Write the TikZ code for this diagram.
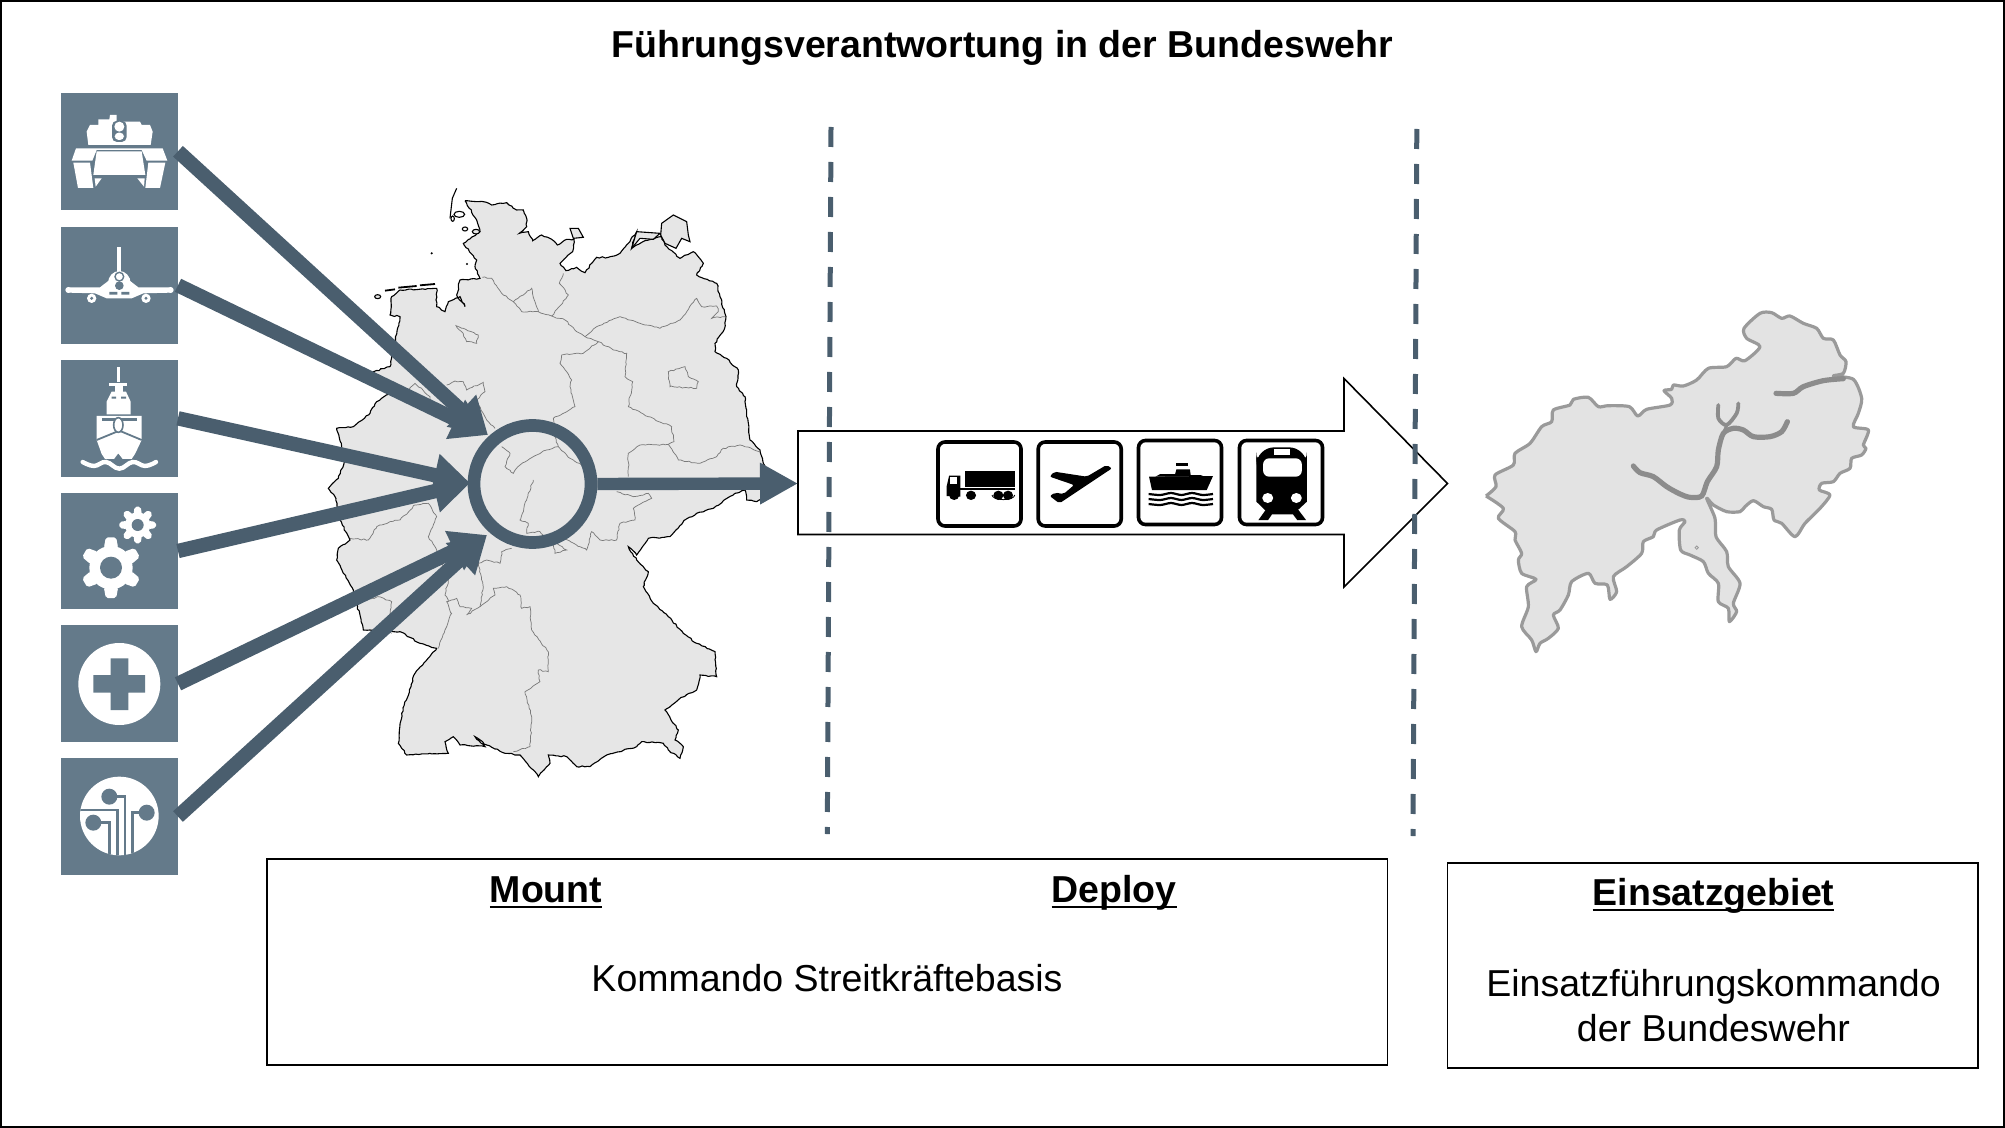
\documentclass[tikz,border=0pt]{standalone}
\usepackage{fontspec}
\setmainfont{Liberation Sans}
\usetikzlibrary{arrows.meta,decorations.pathmorphing}
\definecolor{slateicon}{HTML}{647A8A}
\definecolor{slatedark}{HTML}{4A5E6E}
\definecolor{landgray}{HTML}{E6E6E6}
\definecolor{areagray}{HTML}{E3E3E3}
\definecolor{areaedge}{HTML}{9A9A9A}
\definecolor{riveredge}{HTML}{8C8C8C}
\newcommand\ulin[1]{\setbox0\hbox{#1}\hbox{\rlap{\vrule width\wd0 height -1.9pt depth 3.1pt}\box0}}
\tikzset{
 iconbox/.style={fill=slateicon,draw=none,minimum width=58.3pt,minimum height=58.4pt,inner sep=0pt},
 conn/.style={draw=slatedark,line width=7.2pt,-{Triangle[length=18pt,width=20.5pt]}},
 outconn/.style={draw=slatedark,line width=6.2pt,-{Triangle[length=19pt,width=19.5pt]}},
 hubring/.style={circle,draw=slatedark,line width=6.35pt,minimum size=58.5pt,inner sep=0pt},
 coast/.style={draw=black,line width=.55pt},
 wiggle/.style={decorate,decoration={random steps,segment length=1.4pt,amplitude=.35pt}},
 sborder/.style={draw=black!52,line width=.36pt,wiggle},
 sep/.style={draw=slatedark,line width=2.5pt,dash pattern=on 10pt off 7.5pt},
 modebox/.style={draw=black,fill=white,line width=1.8pt,rounded corners=3.5pt,minimum width=41.5pt,minimum height=42pt,inner sep=0pt},
 infobox/.style={draw=black,fill=white,line width=.8pt,inner sep=0pt},
 hd/.style={font=\fontsize{18.75}{22}\selectfont\bfseries,anchor=base},
 bd/.style={font=\fontsize{18.75}{22}\selectfont,anchor=base},
 zA/.style={shift={(320,180)},scale=.33333},
 zI/.style={shift={(40,80)},scale=.33333},
 zJ/.style={shift={(40,480)},scale=.33333},
 zM/.style={shift={(1470,290)},scale=.33333},
 zT/.style={shift={(790,370)},xscale=.4209,yscale=.33333},
}
\newcommand\gearicon[6]{% x y body hole tip count
 \fill[white] (#1,#2) circle[radius=#3];
 \foreach \k in {1,...,#6}{
  \pgfmathsetmacro\aa{90+360/#6*\k}
  \fill[white,shift={(#1,#2)},rotate=\aa,rounded corners=1pt] (#3-6,-#3*.33) -- (#5,-#3*.24) -- (#5,#3*.24) -- (#3-6,#3*.33) -- cycle;
 }
 \fill[slateicon] (#1,#2) circle[radius=#4];
}
\begin{document}
\begin{tikzpicture}[x=.5pt,y=-.5pt]
\useasboundingbox (0,0) rectangle (2005,1128);
\pgfmathsetseed{11}
\draw[black,line width=1.25pt] (1.2,1.2) rectangle (2003.8,1126.8);

\node[hd] (title) at (1002,58) {Führungsverantwortung in der Bundeswehr};

% ---- Germany
\begin{scope}[zA]
\path[fill=landgray,coast,wiggle] plot coordinates {
(435,62)(490,65)(515,75)(560,68)(590,90)(610,90)(620,115)(620,140)(598,160)(625,155)(638,182)(665,165)(695,178)(712,195)(740,178)(762,178)(758,215)(720,250)(738,272)(770,262)(795,278)(815,250)(830,232)(865,232)(900,220)(925,190)(950,155)(935,205)(975,182)(1000,177)(1025,170)(1035,195)(1080,235)(1120,215)(1150,250)(1130,285)(1190,310)(1200,350)(1218,410)(1212,450)(1185,490)(1185,515)(1220,535)(1255,570)(1250,620)(1275,650)(1280,700)(1290,780)(1320,810)(1330,850)(1345,880)(1345,945)(1310,965)(1280,960)(1275,930)(1245,940)(1180,985)(1130,1000)(1090,1025)(1050,1070)(985,1075)(950,1125)(925,1100)(950,1140)(985,1175)(970,1220)(1000,1270)(1045,1310)(1090,1360)(1130,1390)(1185,1415)(1190,1490)(1140,1485)(1130,1530)(1080,1555)(1035,1590)(1075,1650)(1065,1680)(1090,1700)(1080,1735)(1045,1710)(1030,1690)(965,1685)(950,1700)(860,1725)(810,1760)(770,1760)(740,1730)(685,1725)(690,1750)(655,1790)(640,1770)(600,1725)(555,1720)(500,1695)(465,1670)(495,1700)(420,1695)(400,1670)(375,1685)(385,1720)(330,1720)(260,1725)(235,1690)(245,1600)(285,1480)(350,1405)(300,1390)(240,1355)(150,1350)(130,1350)(100,1230)(50,1140)(55,1105)(90,1080)(60,1020)(45,950)(25,925)(55,895)(75,840)(65,800)(50,745)(100,740)(150,700)(170,665)(210,640)(160,575)(210,560)(240,410)(210,405)(215,350)(240,330)(350,325)(350,380)(375,395)(385,365)(420,350)(435,380)(410,345)(420,300)(480,295)(465,260)(470,240)(430,190)(480,155)(470,120)(435,62)};
% islands
\path[fill=landgray,coast] (1025,130) -- (1060,105) -- (1100,125) -- (1105,165) -- (1110,185) -- (1085,175) -- (1068,205) -- (1035,190) -- (1022,165) -- cycle;
\path[fill=landgray,coast] (950,155) -- (1020,160) -- (1000,178) -- (960,175) -- (935,205) -- cycle;
\path[fill=landgray,coast] (750,145) -- (775,145) -- (790,172) -- (760,175) -- cycle;
\draw[coast] (410,25) -- (397,55) -- (390,115);
\draw[coast] (418,103) ellipse (16 and 9);
\draw[coast] (398,116) ellipse (5 and 8);
\draw[coast] (435,147) ellipse (8 and 6);
\draw[coast,fill=landgray] (468,155) ellipse (11 and 7);
\draw[coast,fill=landgray] (173,350) ellipse (9 and 6);
\draw[black,line width=.9pt] (195,332) -- (225,328) (235,323) -- (290,318) (300,316) -- (345,312);
\fill[black] (335,220) circle[radius=3.5] (441,252) circle[radius=3.5];
% state borders
\draw[sborder] plot coordinates {(487,292)(515,295)(545,340)(580,365)(610,345)(635,325)(645,365)(655,395)(695,408)(745,345)(718,310)(730,280)};
\draw[sborder] plot coordinates {(580,365)(605,395)(655,395)};
\draw[sborder] plot coordinates {(695,408)(735,420)(770,455)(795,470)(835,485)(880,510)(920,520)(915,590)(938,605)(925,680)(985,710)(1055,740)(1062,785)(1045,793)};
\draw[sborder] plot coordinates {(795,470)(830,440)(900,410)(960,430)(1020,445)(1080,420)(1130,355)(1145,380)(1190,378)(1195,395)(1175,415)(1215,410)};
\draw[sborder] plot coordinates {(835,485)(790,520)(725,525)(720,550)(755,600)(750,620)(765,680)(700,715)(705,770)(715,800)(750,835)(785,855)};
\draw[sborder] (408,437) -- (430,445) -- (475,465) -- (470,490) -- (440,485) -- (425,455) -- cycle;
\draw[sborder] (1045,575) -- (1095,560) -- (1105,590) -- (1135,605) -- (1130,625) -- (1050,620) -- cycle;
\draw[sborder] plot coordinates {(380,615)(405,603)(430,605)(440,630)(490,607)(495,635)(470,660)(500,720)(525,745)};
\draw[sborder] plot coordinates {(260,635)(285,610)(330,650)(325,668)};
\draw[sborder] plot coordinates {(545,800)(570,820)(555,860)(580,880)(600,855)(650,825)(680,810)(715,800)};
\draw[sborder] plot coordinates {(640,900)(620,960)(600,1020)(625,1030)(620,1060)(660,1055)(700,1095)(705,1120)(740,1110)(710,1090)};
\draw[sborder] plot coordinates {(700,1095)(730,1075)(780,1100)(800,1110)(815,1055)(840,1080)(890,1080)(900,1030)(945,1020)(940,985)(995,955)(985,940)(940,950)(890,935)};
\draw[sborder] plot coordinates {(1045,793)(960,795)(925,820)(925,890)};
\draw[sborder] plot coordinates {(1045,793)(1075,840)(1140,850)(1190,830)(1210,805)(1260,795)(1320,815)};
\draw[sborder] plot coordinates {(575,1105)(545,1115)(540,1150)(500,1140)(475,1150)(490,1220)(480,1280)(440,1305)(455,1285)(420,1280)(410,1255)(380,1265)(395,1300)(375,1350)(355,1405)};
\draw[sborder] plot coordinates {(480,1280)(525,1245)(520,1225)(560,1220)(600,1245)(605,1285)(630,1280)(635,1350)(685,1415)(685,1475)(655,1470)(660,1505)(615,1535)(635,1610)(630,1700)(580,1715)};
\draw[sborder] plot coordinates {(90,1075)(145,1080)(170,1040)(210,1025)(240,1020)(285,975)(325,970)(350,1010)(325,1070)(345,1100)(385,1200)(375,1245)(385,1265)};
\draw[sborder] plot coordinates {(90,1275)(175,1250)(215,1265)(210,1305)(190,1340)(215,1360)};
\end{scope}

% ---- Force icons
\node[iconbox] (tank) at (119.3,151.3) {};
\node[iconbox] (jet) at (119.3,285.3) {};
\node[iconbox] (navy) at (119.3,418.3) {};
\node[iconbox] (gears) at (119.3,551) {};
\node[iconbox] (medic) at (119.3,683.8) {};
\node[iconbox] (cyber) at (119.3,816.5) {};

\begin{scope}[zI]
% tank
\fill[white] (140,155) -- (150,135) -- (175,135) -- (175,118) -- (208,118) -- (210,105) -- (230,105) -- (230,125) -- (300,125) -- (305,135) -- (330,135) -- (338,155) -- (332,195) -- (145,195) -- cycle;
\fill[slateicon,rounded corners=2.5pt] (216,122) rectangle (260,186);
\fill[white] (238,140) circle[radius=15];
\fill[white,rounded corners=2pt] (224,158) rectangle (252,180);
\fill[white] (95,242) -- (108,205) -- (368,205) -- (382,242) -- (320,242) -- (305,210) -- (170,210) -- (157,242) -- cycle;
\fill[white] (170,214) -- (305,214) -- (316,285) -- (160,285) -- cycle;
\fill[white] (100,248) -- (150,248) -- (160,324) -- (114,324) -- cycle;
\fill[white] (325,248) -- (376,248) -- (360,324) -- (316,324) -- cycle;
\fill[white] (164,295) -- (185,295) -- (167,320) -- cycle;
\fill[white] (314,295) -- (292,295) -- (312,320) -- cycle;
% jet
\fill[white] (232,502) rectangle (243,600);
\fill[white] (238,610) ellipse (34 and 37);
\fill[white] (85,622) -- (180,622) -- (215,595) -- (260,595) -- (295,622) -- (392,622) -- (392,638) -- (310,640) -- (275,655) -- (200,655) -- (165,640) -- (85,638) -- cycle;
\fill[white] (85,630) circle[radius=9] (392,630) circle[radius=9];
\fill[white] (155,655) circle[radius=14] (318,655) circle[radius=14];
\fill[slateicon] (155,655) circle[radius=5] (318,655) circle[radius=5];
\fill[slateicon] (238,617) circle[radius=13];
\draw[slateicon,line width=.7pt] (238,590) circle[radius=13];
\fill[slateicon] (208,636) rectangle (232,644) (244,636) rectangle (268,644);
% ship
\fill[white] (232,860) rectangle (240,905);
\fill[white] (208,908) rectangle (262,918);
\fill[white] (225,918) rectangle (248,935);
\fill[white] (200,965) -- (215,935) -- (258,935) -- (272,965) -- (272,1003) -- (200,1003) -- cycle;
\fill[slateicon] (215,950) rectangle (228,956) (243,950) rectangle (258,956);
\fill[white] (170,1008) -- (305,1008) -- (305,1080) -- (285,1122) -- (275,1137) -- (248,1137) -- (235,1120) -- (222,1137) -- (195,1137) -- (185,1122) -- (170,1080) -- cycle;
\fill[slateicon] (185,1015) rectangle (290,1022);
\draw[slateicon,line width=.9pt] (170,1080) -- (238,1052) -- (305,1080);
\draw[slateicon,line width=.8pt,fill=white] (235,1035) ellipse (14 and 22);
\draw[white,line width=2.2pt,line cap=round] plot[smooth,tension=.7] coordinates {(128,1146)(162,1158)(198,1146)(238,1166)(278,1146)(315,1158)(348,1146)};
\end{scope}

\begin{scope}[zJ]
\gearicon{213}{263}{65}{33}{91}{6}
\gearicon{293}{135}{38}{18}{55}{8}
% medic
\fill[white] (238,612) circle[radius=123];
\fill[slateicon] (212,535) rectangle (265,690) (160,585) rectangle (315,638);
% cyber
\fill[white] (238,1008) circle[radius=118];
\begin{scope}
\clip (238,1008) circle[radius=118];
\draw[slateicon,line width=1.3pt] (160,1028) -- (208,1028) -- (208,1130);
\draw[slateicon,line width=1.3pt] (115,990) -- (232,990) -- (232,1130);
\draw[slateicon,line width=1.3pt] (208,950) -- (255,950) -- (255,1130);
\draw[slateicon,line width=1.3pt] (320,998) -- (277,998) -- (277,1130);
\end{scope}
\fill[slateicon] (160,1028) circle[radius=24] (208,950) circle[radius=24] (320,998) circle[radius=24];
\end{scope}

% ---- Hub and connectors
\node[hubring] (hub) at (532.5,484) {};
\coordinate (tipA) at (488,435);
\coordinate (tipB) at (470,483);
\coordinate (tipC) at (487,535);
\coordinate (blockwest) at (798,483.5);
\draw[conn] (tank.east) -- (tipA);
\draw[conn] (jet.east) -- (tipA);
\draw[conn] (navy.east) -- (tipB);
\draw[conn] (gears.east) -- (tipB);
\draw[conn] (medic.east) -- (tipC);
\draw[conn] (cyber.east) -- (tipC);

% ---- Block arrow
\draw[black,line width=.8pt,fill=white,line join=miter] (blockwest) |- (1344,431) -- (1344,378.5) -- (1447.5,483.5) -- (1344,587) -- (1344,534.5) -| (blockwest);
\draw[outconn] (hub.east) -- (blockwest);

% ---- Phase separators
\coordinate (sepAa) at (831,127); \coordinate (sepAb) at (827.3,834);
\coordinate (sepBa) at (1416.8,129); \coordinate (sepBb) at (1413,836);
\draw[sep] (sepAa) -- (sepAb);
\draw[sep] (sepBa) -- (sepBb);

% ---- Transport icons
\node[modebox] (lorry) at (979.5,484) {};
\node[modebox] (plane) at (1079.7,484) {};
\node[modebox] (ferry) at (1180,482.5) {};
\node[modebox] (train) at (1281,482.5) {};
\begin{scope}[zT]
% lorry
\fill[black] (415,303) rectangle (535,350);
\fill[black] (372,350) -- (378,317) -- (405,317) -- (405,380) -- (372,378) -- cycle;
\fill[white] (379,322) rectangle (396,342);
\fill[black] (405,353) rectangle (535,360);
\fill[black] (390,376) ellipse (12 and 14) (430,376) ellipse (12 and 14) (495,376) ellipse (12 and 14) (518,376) ellipse (12 and 14);
\draw[black,line width=.4pt] (480,375) arc[start angle=180,end angle=0,x radius=27,y radius=14];
% plane
\fill[black,rounded corners=1pt] (752,285) -- (765,295) -- (640,400) -- (617,378) -- (630,368) -- (650,372) -- (675,345) -- (617,320) -- (628,305) -- (705,320) -- cycle;
% ferry
\fill[black] (853,320) -- (1005,318) -- (990,360) -- (860,360) -- cycle;
\fill[black] (868,320) -- (880,312) -- (915,312) -- (918,298) -- (950,298) -- (952,315) -- (975,315) -- (985,320) -- cycle;
\fill[black] (918,280) rectangle (945,288);
\foreach \yy in {372,387,402}{
 \draw[black,line width=1.1pt] plot[smooth] coordinates {(852,\yy)(880,\yy+3)(905,\yy-3)(930,\yy+3)(955,\yy-3)(980,\yy+3)(1005,\yy)};
}
% train
\fill[black,rounded corners=9pt] (1108,232) rectangle (1228,300);
\fill[black] (1108,262) -- (1228,262) -- (1228,395) -- (1205,422) -- (1130,422) -- (1108,395) -- cycle;
\fill[black] (1130,420) -- (1113,450) -- (1136,450) -- (1145,433) -- (1195,433) -- (1205,450) -- (1226,450) -- (1208,420) -- cycle;
\fill[white,rounded corners=3pt] (1124,265) rectangle (1216,320);
\fill[white] (1150,238) rectangle (1188,256);
\fill[white] (1135,384) ellipse (13 and 15) (1203,384) ellipse (13 and 15);
\end{scope}

% ---- Operation area
\begin{scope}[zM]
\path[fill=areagray,draw=areaedge,line width=1.6pt,line join=round] plot[smooth,tension=.45] coordinates {
(48,618)(78,590)(75,555)(130,525)(135,490)(180,460)(215,410)(245,395)(250,360)(300,345)(310,328)(355,322)(385,350)(415,347)(478,350)(503,378)(530,358)(600,345)(605,325)(582,302)(605,298)(610,285)(640,288)(680,270)(715,235)(770,230)(798,205)(825,212)(870,170)(830,145)(822,115)(870,70)(905,68)(935,85)(960,78)(1000,100)(1040,115)(1060,145)(1090,150)(1110,195)(1128,215)(1120,250)(1090,258)(1150,268)(1175,325)(1165,370)(1150,410)(1195,420)(1180,465)(1188,475)(1175,495)(1145,505)(1140,535)(1110,550)(1090,575)(1055,580)(1048,600)(1080,615)(1050,655)(1005,700)(975,740)(935,700)(912,690)(905,658)(880,650)(850,632)(825,650)(810,665)(770,665)(730,645)(710,625)(735,685)(738,740)(770,785)(775,830)(810,880)(790,940)(800,965)(778,995)(775,955)(745,935)(745,880)(715,850)(700,815)(660,795)(632,780)(628,720)(645,695)(630,690)(560,720)(550,740)(520,755)(515,790)(470,830)(430,860)(440,905)(420,928)(412,885)(375,880)(355,850)(305,875)(295,915)(270,960)(250,975)(265,1015)(235,1045)(210,1060)(198,1085)(185,1050)(155,1010)(175,950)(170,890)(198,868)(155,850)(145,810)(155,790)(135,750)(135,725)(85,685)(100,655)(48,618)};
\draw[riveredge,line width=2.6pt,line cap=round] plot[smooth,tension=.5] coordinates {(490,528)(510,548)(550,560)(590,590)(630,612)(660,622)(695,618)(712,575)(740,530)(745,480)(760,430)(790,415)(820,420)(850,440)(900,440)(935,425)(952,395)};
\draw[riveredge,line width=1.9pt,line cap=round] plot[smooth,tension=.5] coordinates {(745,345)(745,385)(770,405)(800,370)(805,340)};
\draw[riveredge,line width=1.4pt] (770,405) -- (760,430);
\draw[riveredge,line width=2.6pt,line cap=round] plot[smooth,tension=.5] coordinates {(918,310)(970,310)(1000,290)(1060,272)(1120,266)};
\draw[areaedge,line width=.4pt] (680,773) circle[radius=5];
\end{scope}

% ---- Text boxes
\node[infobox,minimum width=560.2pt,minimum height=103pt] (boxmd) at (827.2,962) {};
\node[infobox,minimum width=265.2pt,minimum height=102.5pt] (boxeg) at (1712.8,965.5) {};
\node[hd] (mount) at (546,902) {\ulin{Mount}};
\node[hd] (deploy) at (1114,902) {\ulin{Deploy}};
\node[bd] (ksb) at (827,991) {Kommando Streitkräftebasis};
\node[hd] (einsatz) at (1713.5,905) {\ulin{Einsatzgebiet}};
\node[bd] (efk) at (1713.5,996) {Einsatzführungskommando};
\node[bd] (bw) at (1713.5,1041) {der Bundeswehr};
\end{tikzpicture}
\end{document}
